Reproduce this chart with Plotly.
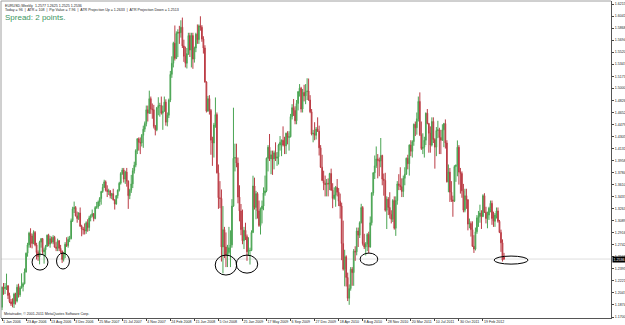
import plotly.graph_objects as go
import pandas as pd

# Weekly EURUSD candles, 1 Jan 2006 .. 27 May 2012
opens = [
1.1840,1.2130,1.2110,1.2125,1.2150,1.2010,1.1920,1.1890,1.1890,1.2030,1.1930,1.2130,1.2020,
1.2120,1.2140,1.2180,1.2350,1.2620,1.2740,1.2910,1.2870,1.2760,1.2920,1.2740,1.2630,1.2570,
1.2780,1.2830,1.2640,1.2670,1.2720,1.2880,1.2750,1.2830,1.2780,1.2850,1.2710,1.2690,1.2800,
1.2690,1.2650,1.2530,1.2600,1.2750,1.2730,1.2820,1.2830,1.3090,1.3260,1.3280,1.3160,1.3120,
1.3200,1.3010,1.2970,1.2960,1.2940,1.3060,1.2990,1.3130,1.3160,1.3190,1.3120,1.3280,1.3290,
1.3360,1.3410,1.3510,1.3570,1.3650,1.3530,1.3510,1.3520,1.3450,1.3480,1.3390,1.3330,1.3450,
1.3530,1.3630,1.3770,1.3820,1.3690,1.3790,1.3660,1.3450,1.3530,1.3620,1.3810,1.3890,1.4100,
1.4270,1.4220,1.4210,1.4320,1.4410,1.4490,1.4690,1.4640,1.4850,1.4700,1.4690,1.4450,1.4400,
1.4720,
1.4750,1.4750,1.4640,1.4670,1.4800,1.4510,1.4610,1.4830,1.5200,1.5360,1.5650,1.5430,1.5790,
1.5810,1.5800,1.5880,1.5610,1.5460,1.5360,1.5500,1.5760,1.5550,1.5760,1.5420,1.5580,1.5780,
1.5700,1.5900,1.5880,1.5710,1.5580,1.5090,1.4670,1.4850,1.4680,1.4250,1.4210,1.4470,1.4620,
1.3780,1.3420,1.3410,1.2710,1.2960,1.2710,1.2590,1.2630,1.2700,1.2740,1.3300,1.3990,1.4000,
1.3920,1.3430,1.3230,1.2960,1.2800,1.2950,1.2860,1.2640,1.2660,1.2660,1.2920,1.3590,1.3280,
1.3480,1.3230,1.3020,1.3260,1.3300,1.3490,1.3520,1.3990,1.4150,1.3980,1.4040,1.3980,1.4070,
1.3990,1.4010,1.4180,1.4220,1.4250,1.4180,1.4170,1.4350,1.4290,1.4300,1.4590,1.4720,1.4680,
1.4530,1.4780,1.4950,1.5000,1.4700,1.4940,1.4890,1.4950,1.4960,1.4830,1.4660,1.4340,1.4350,
1.4320,1.4410,1.4380,1.4140,1.3860,1.3670,1.3630,1.3610,1.3630,1.3620,1.3770,1.3530,1.3410,
1.3460,1.3570,1.3500,1.3370,1.3300,1.2760,1.2390,1.2570,1.2270,1.1970,1.2110,1.2390,1.2340,
1.2650,1.2640,1.2940,1.2880,1.3060,1.3280,1.2760,1.2710,1.2750,1.2890,1.2710,1.3060,1.3490,
1.3780,1.3880,1.3980,1.3960,1.3950,1.4030,1.3690,1.3670,1.3240,1.3400,1.3280,1.3180,1.3110,
1.3380,1.2980,1.3380,1.3620,1.3600,1.3580,1.3510,1.3700,1.3760,1.3990,1.3910,1.4180,1.4090,
1.4230,1.4480,1.4430,1.4560,1.4810,1.4330,1.4130,1.4150,1.4250,1.4640,1.4490,1.4350,1.4180,
1.4520,1.4260,1.4150,1.4390,1.4400,1.4290,1.4250,1.4400,1.4490,1.4210,1.3650,1.3790,1.3500,
1.3390,1.3370,1.3870,1.3890,1.4150,1.3790,1.3770,1.3520,1.3240,1.3450,1.3390,1.3040,1.3050,
1.2960,1.2720,1.2680,1.2930,1.3130,1.3150,1.3200,1.3150,1.3450,1.3210,1.3120,1.3170,1.3270,
1.3340,1.3120,1.3080,1.3170,1.3230,1.3080,1.2920,1.2770,1.2577]

highs = [
1.2140,1.2190,1.2190,1.2325,1.2160,1.2050,1.1960,1.1970,1.2050,1.2050,1.2170,1.2180,1.2150,
1.2330,1.2200,1.2400,1.2630,1.2770,1.2930,1.2980,1.2900,1.2950,1.2940,1.2770,1.2660,1.2800,
1.2840,1.2840,1.2700,1.2740,1.2890,1.2900,1.2870,1.2860,1.2880,1.2870,1.2780,1.2830,1.2810,
1.2740,1.2660,1.2640,1.2780,1.2850,1.2860,1.2870,1.3120,1.3290,1.3365,1.3300,1.3220,1.3210,
1.3280,1.3030,1.3000,1.3050,1.3080,1.3110,1.3160,1.3180,1.3250,1.3200,1.3300,1.3360,1.3380,
1.3430,1.3520,1.3620,1.3680,1.3670,1.3600,1.3550,1.3530,1.3490,1.3550,1.3400,1.3460,1.3540,
1.3650,1.3790,1.3850,1.3850,1.3810,1.3850,1.3670,1.3550,1.3750,1.3850,1.3940,1.4120,1.4280,
1.4290,1.4290,1.4340,1.4460,1.4520,1.4750,1.4750,1.4965,1.4880,1.4780,1.4760,1.4470,1.4730,
1.4870,
1.4790,1.4880,1.4750,1.4880,1.4840,1.4650,1.4850,1.5250,1.5460,1.5670,1.5905,1.5820,1.5850,
1.5900,1.5980,1.6019,1.5700,1.5600,1.5580,1.5800,1.5800,1.5800,1.5800,1.5600,1.5800,1.5920,
1.5920,1.6038,1.5910,1.5750,1.5620,1.5100,1.4890,1.4900,1.4700,1.4300,1.4500,1.4867,1.4650,
1.3900,1.3660,1.3540,1.3300,1.3000,1.2920,1.2740,1.3000,1.2950,1.3400,1.4719,1.4200,1.4200,
1.4000,1.3600,1.3330,1.3250,1.3000,1.3060,1.2890,1.2850,1.2700,1.2950,1.3738,1.3710,1.3520,
1.3500,1.3380,1.3280,1.3380,1.3570,1.3740,1.4000,1.4180,1.4340,1.4100,1.4100,1.4100,1.4220,
1.4080,1.4200,1.4310,1.4260,1.4450,1.4300,1.4360,1.4380,1.4380,1.4630,1.4770,1.4845,1.4740,
1.4830,1.4960,1.5060,1.5020,1.4990,1.5050,1.5060,1.5144,1.5140,1.4900,1.4700,1.4400,1.4510,
1.4440,1.4580,1.4460,1.4180,1.4040,1.3810,1.3740,1.3690,1.3700,1.3780,1.3840,1.3630,1.3570,
1.3590,1.3690,1.3560,1.3480,1.3350,1.3090,1.2670,1.2590,1.2340,1.2170,1.2420,1.2420,1.2680,
1.2720,1.2990,1.2990,1.3080,1.3333,1.3300,1.2900,1.2780,1.2910,1.2930,1.3150,1.3500,1.3790,
1.4030,1.4160,1.4050,1.4000,1.4282,1.4040,1.3770,1.3780,1.3440,1.3430,1.3500,1.3240,1.3400,
1.3440,1.3440,1.3660,1.3760,1.3860,1.3700,1.3740,1.3860,1.4000,1.4040,1.4190,1.4250,1.4250,
1.4490,1.4520,1.4650,1.4880,1.4940,1.4520,1.4350,1.4300,1.4650,1.4700,1.4500,1.4450,1.4580,
1.4580,1.4280,1.4440,1.4530,1.4430,1.4400,1.4480,1.4500,1.4550,1.4250,1.3900,1.3850,1.3660,
1.3450,1.3890,1.3900,1.4247,1.4180,1.3850,1.3800,1.3620,1.3550,1.3550,1.3400,1.3120,1.3080,
1.3080,1.2880,1.2990,1.3170,1.3230,1.3320,1.3240,1.3470,1.3486,1.3290,1.3220,1.3290,1.3380,
1.3380,1.3220,1.3200,1.3280,1.3280,1.3100,1.2960,1.2820,1.2625]

lows = [
1.1800,1.2020,1.2030,1.2090,1.1960,1.1900,1.1860,1.1840,1.1830,1.1880,1.1910,1.1980,1.1990,
1.2110,1.2070,1.2170,1.2340,1.2570,1.2700,1.2700,1.2690,1.2750,1.2720,1.2530,1.2510,1.2460,
1.2700,1.2610,1.2470,1.2580,1.2710,1.2720,1.2700,1.2760,1.2750,1.2700,1.2650,1.2650,1.2650,
1.2620,1.2480,1.2500,1.2550,1.2710,1.2700,1.2780,1.2820,1.3070,1.3200,1.3150,1.3060,1.3100,
1.3000,1.2865,1.2890,1.2890,1.2900,1.2930,1.2940,1.3080,1.3140,1.3080,1.3110,1.3260,1.3260,
1.3300,1.3320,1.3490,1.3560,1.3510,1.3430,1.3460,1.3410,1.3400,1.3380,1.3250,1.3320,1.3410,
1.3510,1.3610,1.3750,1.3640,1.3620,1.3580,1.3260,1.3400,1.3490,1.3560,1.3770,1.3860,1.4050,
1.4100,1.4050,1.4160,1.4140,1.4370,1.4450,1.4520,1.4630,1.4630,1.4560,1.4420,1.4320,1.4380,
1.4610,
1.4590,1.4620,1.4400,1.4660,1.4460,1.4450,1.4570,1.4800,1.5150,1.5300,1.5400,1.5420,1.5450,
1.5640,1.5730,1.5580,1.5380,1.5300,1.5285,1.5480,1.5450,1.5300,1.5280,1.5370,1.5520,1.5640,
1.5640,1.5830,1.5670,1.5500,1.5080,1.4650,1.4660,1.4620,1.4040,1.3880,1.4000,1.4430,1.3770,
1.3260,1.3270,1.2500,1.2330,1.2550,1.2420,1.2420,1.2600,1.2420,1.2700,1.3290,1.3800,1.3860,
1.3340,1.3080,1.2880,1.2750,1.2680,1.2810,1.2510,1.2580,1.2457,1.2650,1.2910,1.3250,1.3110,
1.3120,1.3000,1.2890,1.3050,1.3240,1.3450,1.3500,1.3800,1.3950,1.3760,1.3750,1.3830,1.3950,
1.3880,1.3900,1.4100,1.4020,1.4160,1.4050,1.4050,1.4190,1.4100,1.4290,1.4550,1.4600,1.4480,
1.4480,1.4680,1.4880,1.4650,1.4650,1.4810,1.4770,1.4830,1.4820,1.4640,1.4320,1.4220,1.4250,
1.4260,1.4370,1.4030,1.3850,1.3660,1.3530,1.3440,1.3440,1.3440,1.3530,1.3520,1.3270,1.3390,
1.3290,1.3440,1.3300,1.3120,1.2520,1.2370,1.2143,1.2140,1.1930,1.1876,1.2080,1.2150,1.2150,
1.2510,1.2590,1.2710,1.2840,1.3050,1.2730,1.2680,1.2588,1.2650,1.2620,1.2700,1.3020,1.3450,
1.3690,1.3850,1.3700,1.3730,1.3860,1.3600,1.3450,1.3220,1.2969,1.3170,1.3120,1.3050,1.3070,
1.2960,1.2870,1.3320,1.3530,1.3530,1.3430,1.3430,1.3600,1.3750,1.3830,1.3740,1.4020,1.4000,
1.4170,1.4310,1.4330,1.4520,1.4310,1.4110,1.4050,1.4000,1.4180,1.4480,1.4070,1.4070,1.4160,
1.4210,1.3840,1.4020,1.4280,1.4050,1.4050,1.4240,1.4150,1.4130,1.3640,1.3500,1.3360,1.3360,
1.3146,1.3360,1.3650,1.3730,1.3610,1.3480,1.3420,1.3210,1.3210,1.3260,1.2950,1.2980,1.2860,
1.2710,1.2624,1.2660,1.2900,1.3000,1.3060,1.2970,1.3140,1.3200,1.3050,1.2980,1.3100,1.3210,
1.3030,1.3000,1.3000,1.3120,1.3060,1.2910,1.2640,1.2500,1.2525]

closes = [
1.2130,1.2110,1.2125,1.2150,1.2010,1.1920,1.1890,1.1890,1.2030,1.1930,1.2130,1.2020,1.2120,
1.2140,1.2180,1.2350,1.2620,1.2740,1.2910,1.2870,1.2760,1.2920,1.2740,1.2630,1.2570,1.2780,
1.2830,1.2640,1.2670,1.2720,1.2880,1.2750,1.2830,1.2780,1.2850,1.2710,1.2690,1.2800,1.2690,
1.2650,1.2530,1.2600,1.2750,1.2730,1.2820,1.2830,1.3090,1.3260,1.3280,1.3160,1.3120,1.3200,
1.3010,1.2970,1.2960,1.2940,1.3060,1.2990,1.3130,1.3160,1.3190,1.3120,1.3280,1.3290,1.3360,
1.3410,1.3510,1.3570,1.3650,1.3530,1.3510,1.3520,1.3450,1.3480,1.3390,1.3330,1.3450,1.3530,
1.3630,1.3770,1.3820,1.3690,1.3790,1.3660,1.3450,1.3530,1.3620,1.3810,1.3890,1.4100,1.4270,
1.4220,1.4210,1.4320,1.4410,1.4490,1.4690,1.4640,1.4850,1.4700,1.4690,1.4450,1.4400,1.4720,
1.4750,
1.4750,1.4640,1.4670,1.4800,1.4510,1.4610,1.4830,1.5200,1.5360,1.5650,1.5430,1.5790,1.5810,
1.5800,1.5880,1.5610,1.5460,1.5360,1.5500,1.5760,1.5550,1.5760,1.5420,1.5580,1.5780,1.5700,
1.5900,1.5880,1.5710,1.5580,1.5090,1.4670,1.4850,1.4680,1.4250,1.4210,1.4470,1.4620,1.3780,
1.3420,1.3410,1.2710,1.2960,1.2710,1.2590,1.2630,1.2700,1.2740,1.3300,1.3990,1.4000,1.3920,
1.3430,1.3230,1.2960,1.2800,1.2950,1.2860,1.2640,1.2660,1.2660,1.2920,1.3590,1.3280,1.3480,
1.3230,1.3020,1.3260,1.3300,1.3490,1.3520,1.3990,1.4150,1.3980,1.4040,1.3980,1.4070,1.3990,
1.4010,1.4180,1.4220,1.4250,1.4180,1.4170,1.4350,1.4290,1.4300,1.4590,1.4720,1.4680,1.4530,
1.4780,1.4950,1.5000,1.4700,1.4940,1.4890,1.4950,1.4960,1.4830,1.4660,1.4340,1.4350,1.4320,
1.4410,1.4380,1.4140,1.3860,1.3670,1.3630,1.3610,1.3630,1.3620,1.3770,1.3530,1.3410,1.3460,
1.3570,1.3500,1.3370,1.3300,1.2760,1.2390,1.2570,1.2270,1.1970,1.2110,1.2390,1.2340,1.2650,
1.2640,1.2940,1.2880,1.3060,1.3280,1.2760,1.2710,1.2750,1.2890,1.2710,1.3060,1.3490,1.3780,
1.3880,1.3980,1.3960,1.3950,1.4030,1.3690,1.3670,1.3240,1.3400,1.3280,1.3180,1.3110,1.3380,
1.2980,1.3380,1.3620,1.3600,1.3580,1.3510,1.3700,1.3760,1.3990,1.3910,1.4180,1.4090,1.4230,
1.4480,1.4430,1.4560,1.4810,1.4330,1.4130,1.4150,1.4250,1.4640,1.4490,1.4350,1.4180,1.4520,
1.4260,1.4150,1.4390,1.4400,1.4290,1.4250,1.4400,1.4490,1.4210,1.3650,1.3790,1.3500,1.3390,
1.3370,1.3870,1.3890,1.4150,1.3790,1.3770,1.3520,1.3240,1.3450,1.3390,1.3040,1.3050,1.2960,
1.2720,1.2680,1.2930,1.3130,1.3150,1.3200,1.3150,1.3450,1.3210,1.3120,1.3170,1.3270,1.3340,
1.3120,1.3080,1.3170,1.3230,1.3080,1.2920,1.2770,1.2520,1.2536]

first_week = "2006-01-01"
weeks = pd.date_range(first_week, periods=len(closes), freq="7D")

date_ticks = ["2006-01-01", "2006-04-23", "2006-08-13", "2006-12-03", "2007-03-25",
              "2007-07-15", "2007-11-04", "2008-02-24", "2008-06-15", "2008-10-05",
              "2009-01-25", "2009-05-17", "2009-09-06", "2009-12-27", "2010-04-18",
              "2010-08-08", "2010-11-28", "2011-03-20", "2011-07-10", "2011-10-30",
              "2012-02-19"]
date_labels = ["1 Jan 2006", "23 Apr 2006", "13 Aug 2006", "3 Dec 2006", "25 Mar 2007",
               "15 Jul 2007", "4 Nov 2007", "24 Feb 2008", "15 Jun 2008", "5 Oct 2008",
               "25 Jan 2009", "17 May 2009", "6 Sep 2009", "27 Dec 2009", "18 Apr 2010",
               "8 Aug 2010", "28 Nov 2010", "20 Mar 2011", "10 Jul 2011", "30 Oct 2011",
               "19 Feb 2012"]

price_ticks = [1.6215, 1.6041, 1.5868, 1.5694, 1.5520, 1.5347, 1.5173, 1.5000, 1.4826,
               1.4652, 1.4479, 1.4305, 1.4131, 1.3958, 1.3784, 1.3610, 1.3437, 1.3263,
               1.3089, 1.2916, 1.2742, 1.2568, 1.2395, 1.2221, 1.2047, 1.1874, 1.1700]

current_price = 1.2536
header_line1 = "EURUSD,Weekly  1.2577 1.2625 1.2525 1.2536"
header_line2 = ("Today = 96  |  ATR = 108  |  Pip Value = 7.96  |  "
                "ATR Projection Up = 1.2633  |  ATR Projection Down = 1.2513")
spread_text = "Spread: 2 points."
copyright_text = "Metatrader, \u00a9 2001-2011 MetaQuotes Software Corp."

# hand-drawn circles: (centre date, centre price, half width in days, half height in price)
circles = [("2006-06-27", 1.2492, 37, 0.0115),
           ("2006-10-12", 1.2507, 30, 0.0115),
           ("2008-11-09", 1.2449, 50, 0.0144),
           ("2009-02-15", 1.2463, 50, 0.0130),
           ("2010-09-06", 1.2535, 41, 0.0087),
           ("2012-06-29", 1.2521, 79, 0.0058)]

fig = go.Figure()
fig.add_trace(go.Candlestick(
    x=weeks, open=opens, high=highs, low=lows, close=closes,
    increasing=dict(line=dict(color="rgb(55,155,65)", width=1), fillcolor="rgb(95,180,100)"),
    decreasing=dict(line=dict(color="rgb(180,40,50)", width=1), fillcolor="rgb(205,80,85)"),
    opacity=0.9, hoverinfo="skip", showlegend=False))

# current price line
fig.add_shape(type="line", xref="paper", x0=0, x1=1, yref="y", y0=current_price, y1=current_price,
              line=dict(color="rgb(222,222,222)", width=1), layer="below")

for c_date, c_price, half_days, half_h in circles:
    center = pd.Timestamp(c_date)
    fig.add_shape(type="circle", xref="x", yref="y",
                  x0=center - pd.Timedelta(days=half_days), x1=center + pd.Timedelta(days=half_days),
                  y0=c_price - half_h, y1=c_price + half_h,
                  line=dict(color="black", width=1))

# window border (top / left)
fig.add_shape(type="line", xref="paper", yref="paper", x0=0, x1=1, y0=1, y1=1,
              line=dict(color="rgb(160,160,160)", width=1))
fig.add_shape(type="line", xref="paper", yref="paper", x0=0, x1=0, y0=0, y1=1,
              line=dict(color="rgb(160,160,160)", width=1))

small = dict(family="Liberation Sans, Arial, sans-serif", size=3.6, color="#222222")

fig.add_annotation(xref="paper", yref="paper", x=0, y=1, xanchor="left", yanchor="top",
                   xshift=2, yshift=-1, text=header_line1, showarrow=False, font=small)
fig.add_annotation(xref="paper", yref="paper", x=0, y=1, xanchor="left", yanchor="top",
                   xshift=2, yshift=-4.8, text=header_line2, showarrow=False, font=small)
fig.add_annotation(xref="paper", yref="paper", x=0, y=1, xanchor="left", yanchor="top",
                   xshift=2, yshift=-10, text=spread_text, showarrow=False,
                   font=dict(family="Liberation Sans, Arial, sans-serif", size=8,
                             color="rgb(60,150,95)"))
fig.add_annotation(xref="paper", yref="paper", x=0, y=0, xanchor="left", yanchor="bottom",
                   xshift=1, yshift=0, text=copyright_text, showarrow=False, font=small)
fig.add_annotation(xref="paper", yref="y", x=1, y=current_price, xanchor="left", yanchor="middle",
                   xshift=1, text=f"{current_price:.4f}", showarrow=False,
                   font=dict(family="Liberation Sans, Arial, sans-serif", size=3.6, color="white"),
                   bgcolor="black", borderpad=0.6)

x_start = pd.Timestamp(first_week) - pd.Timedelta(days=4.7)
x_end = pd.Timestamp(first_week) + pd.Timedelta(weeks=405.2)

fig.update_layout(
    width=625, height=325,
    margin=dict(l=1, r=14, t=1, b=7),
    paper_bgcolor="white", plot_bgcolor="white",
    showlegend=False,
    xaxis=dict(type="date", range=[x_start, x_end], rangeslider=dict(visible=False),
               tickmode="array", tickvals=date_ticks, ticktext=date_labels,
               ticks="outside", ticklen=2, tickcolor="#444", tickwidth=1,
               ticklabelposition="outside right", tickfont=small, tickangle=0,
               showline=True, linecolor="#555", linewidth=1,
               showgrid=False, zeroline=False, automargin=False, fixedrange=True),
    yaxis=dict(side="right", range=[1.16856, 1.62583],
               tickmode="array", tickvals=price_ticks,
               ticktext=[f"{v:.4f}" for v in price_ticks],
               ticks="outside", ticklen=2, tickcolor="#444", tickwidth=1,
               tickfont=small, showline=True, linecolor="#555", linewidth=1,
               showgrid=False, zeroline=False, automargin=False, fixedrange=True),
)

fig.write_html("out.html")
